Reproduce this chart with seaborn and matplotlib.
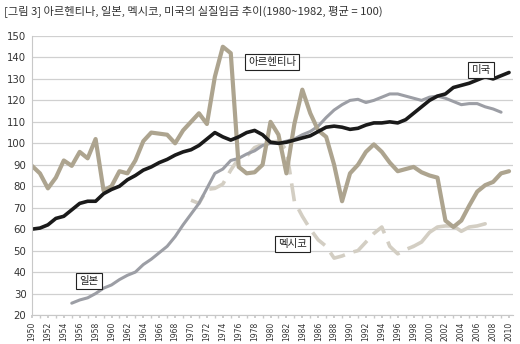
import numpy as np
import pandas as pd
import matplotlib
matplotlib.use("Agg")
import matplotlib.pyplot as plt
import seaborn as sns

# ---------------- data ----------------
us_years = list(range(1950, 2011))
us_values = [60, 60.5, 62, 65, 66, 69, 72, 73, 73, 76.5,
             78.5, 80, 83, 85, 87.5, 89, 91, 92.5, 94.5, 96,
             97, 99, 102, 105, 103, 101.5, 103, 105, 106, 104,
             100.5, 100, 100.5, 101.5, 102.5, 103.5, 105.5, 107.5, 108, 107.5,
             106.5, 107, 108.5, 109.5, 109.5, 110, 109.5, 111, 114, 117,
             120, 122, 123, 126, 127, 128, 129.5, 131, 130, 131.5,
             133]

arg_years = list(range(1950, 2011))
arg_values = [89.5, 86, 79, 84, 92, 89.5, 96, 93, 102, 78,
              80, 87, 86, 92, 101, 105, 104.5, 104, 100, 106,
              110, 114, 109, 131, 145, 142, 89, 86, 86.5, 90,
              110, 104, 86, 109, 125, 114, 106, 103, 90, 73,
              86, 90, 96, 99.5, 96, 91, 87, 88, 89, 86.5,
              85, 84, 64, 61, 64, 71, 77.5, 80.5, 82, 86,
              87]

jpn_years = list(range(1955, 2010))
jpn_values = [25.5, 27, 28, 30, 32.5, 34, 36.5, 38.5, 40, 43.5,
              46, 49, 52, 56.5, 62, 67, 72, 79, 86, 88,
              92, 93, 95, 96.5, 99, 100, 100, 101, 102, 104,
              105.5, 108, 112, 115.5, 118, 120, 120.5, 119, 120, 121.5,
              123, 123, 122, 121, 120, 121.5, 122, 121, 119.5, 118,
              118.5, 118.5, 117, 116, 114.5]

mex_years = list(range(1970, 2008))
mex_values = [73.5, 72, 78.5, 79, 81, 87.5, 93, 94, 98, 99.5,
              100.5, 101, 97, 73, 66, 60, 55, 52, 46.5, 47.5,
              49, 50, 54, 58, 61, 52, 48.5, 50.5, 52, 54,
              58.5, 61, 61.5, 61.5, 59, 61, 61.5, 62.5]

labels = {"아르헨티나": (1980.2, 137.9), "미국": (2006.5, 134.2),
          "멕시코": (1982.8, 53.0), "일본": (1957.2, 35.8)}

title = "[그림 3] 아르헨티나, 일본, 멕시코, 미국의 실질임금 추이(1980~1982, 평균 = 100)"

# ---------------- plot ----------------
sns.set_theme(style="white")
plt.rcParams['font.family'] = ['Noto Sans CJK KR', 'DejaVu Sans']

fig = plt.figure(figsize=(5.2, 3.44), dpi=100)
ax = fig.add_axes([32/520, 29/344, (513-32)/520, (315-36)/344])

mex = pd.DataFrame({"year": mex_years, "value": mex_values})
sns.lineplot(data=mex[mex.year <= 1998], x="year", y="value", ax=ax,
             color="#d3cec3", lw=2.6, linestyle=(0, (5, 2.5)))
sns.lineplot(data=mex[mex.year >= 1998], x="year", y="value", ax=ax,
             color="#d3cec3", lw=2.6)

jpn = pd.DataFrame({"year": jpn_years, "value": jpn_values})
sns.lineplot(data=jpn, x="year", y="value", ax=ax, color="#9c9ea5", lw=2.2)

arg = pd.DataFrame({"year": arg_years, "value": arg_values})
sns.lineplot(data=arg, x="year", y="value", ax=ax, color="#ada48f", lw=3.0)

us = pd.DataFrame({"year": us_years, "value": us_values})
sns.lineplot(data=us, x="year", y="value", ax=ax, color="#1a1a1a", lw=2.6)

for line in ax.get_lines():
    line.set_solid_joinstyle("round")
    line.set_solid_capstyle("round")

ax.set_xlim(1950, 2010.5)
ax.set_ylim(20, 150)
ax.set_yticks(np.arange(20, 151, 10))
ax.set_xticks(np.arange(1950, 2011, 2))
ax.set_xticks(np.arange(1950, 2011, 1), minor=True)
ax.set_xlabel("")
ax.set_ylabel("")
ax.yaxis.grid(True, color="#d0d0d0", lw=0.9)
ax.xaxis.grid(False)
for s in ["top", "right"]:
    ax.spines[s].set_visible(False)
ax.spines["left"].set_color("#c8c8c8")
ax.spines["left"].set_linewidth(0.8)
ax.spines["bottom"].set_color("#c8c8c8")
ax.spines["bottom"].set_linewidth(0.8)
ax.tick_params(axis="y", length=0, labelsize=7.3, colors="#333333", pad=4)
ax.tick_params(axis="x", which="both", direction="out", length=2, color="#c8c8c8",
               labelsize=5.5, labelcolor="#333333", labelrotation=90, pad=3,
               bottom=True)
for lab in ax.get_yticklabels():
    lab.set_family(['Liberation Sans Narrow', 'DejaVu Sans'])
for lab in ax.get_xticklabels():
    lab.set_family(['Liberation Sans Narrow', 'DejaVu Sans'])

for text, (x, y) in labels.items():
    ax.text(x, y, text, ha="center", va="center", fontsize=7.5, color="#222222",
            bbox=dict(boxstyle="square,pad=0.3", fc="white", ec="#222222", lw=0.8),
            zorder=10)

fig.text(4/520, 1 - 11/344, title, ha="left", va="center", fontsize=8.1, color="#333333")

fig.savefig("out.png", dpi=100)
